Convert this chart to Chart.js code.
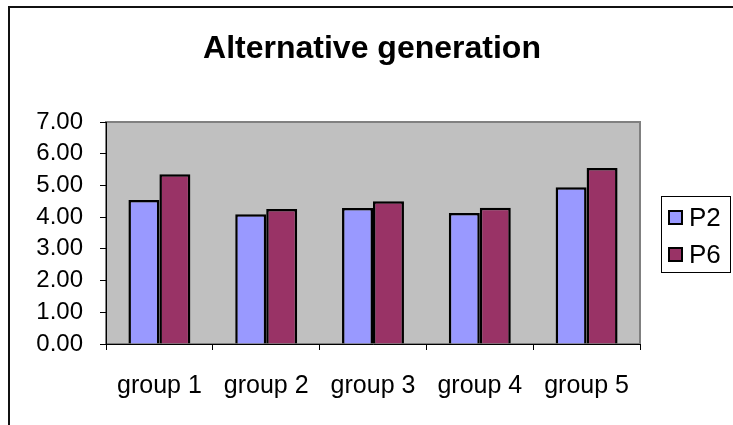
<!DOCTYPE html>
<html>
<head>
<meta charset="utf-8">
<script src="https://cdn.jsdelivr.net/npm/chart.js@4.4.0/dist/chart.umd.min.js"></script>
<style>
html,body{margin:0;padding:0;background:#fff;overflow:hidden;}
#wrap{width:733px;height:425px;}
</style>
</head>
<body>
<div id="wrap"><canvas id="c" width="733" height="425"></canvas></div>
<script>
const chartTitle = "Alternative generation";
const categories = ["group 1", "group 2", "group 3", "group 4", "group 5"];
const seriesNames = ["P2", "P6"];
const p2Values = [4.54, 4.09, 4.29, 4.13, 4.94];
const p6Values = [5.35, 4.26, 4.50, 4.30, 5.55];
const yTicks = [0, 1, 2, 3, 4, 5, 6, 7];

const FONT = "'Liberation Sans', Arial, sans-serif";
Chart.defaults.font.family = FONT;
Chart.defaults.color = "#000";

const decor = {
  id: "decor",
  beforeDraw(chart) {
    const ctx = chart.ctx, a = chart.chartArea;
    ctx.save();
    ctx.fillStyle = "#fff";
    ctx.fillRect(0, 0, chart.width, chart.height);
    // outer frame (top and left edges visible)
    ctx.strokeStyle = "#111";
    ctx.lineWidth = 2;
    ctx.beginPath();
    ctx.moveTo(9, chart.height + 5);
    ctx.lineTo(9, 7);
    ctx.lineTo(chart.width + 5, 7);
    ctx.stroke();
    // plot area
    ctx.fillStyle = "#C0C0C0";
    ctx.fillRect(a.left, a.top, a.right - a.left, a.bottom - a.top);
    ctx.strokeStyle = "#808080";
    ctx.lineWidth = 2;
    ctx.strokeRect(a.left, a.top, a.right - a.left, a.bottom - a.top);
    ctx.restore();
  },
  afterDraw(chart) {
    const ctx = chart.ctx;
    ctx.save();
    // title
    ctx.fillStyle = "#000";
    ctx.font = "bold 32px " + FONT;
    ctx.textAlign = "center";
    ctx.textBaseline = "alphabetic";
    ctx.fillText(chartTitle, 372, 58);
    // legend
    ctx.strokeStyle = "#000";
    ctx.lineWidth = 1;
    ctx.strokeRect(661.5, 196.5, 69, 76);
    ctx.font = "26px " + FONT;
    ctx.textAlign = "left";
    chart.data.datasets.forEach((ds, i) => {
      const y = 211 + i * 37;
      ctx.fillStyle = ds.backgroundColor;
      ctx.fillRect(669, y, 13, 13);
      ctx.lineWidth = 2;
      ctx.strokeStyle = "#000";
      ctx.strokeRect(669, y, 13, 13);
      ctx.fillStyle = "#000";
      ctx.fillText(ds.label, 689, y + 15);
    });
    ctx.restore();
  }
};

new Chart(document.getElementById("c"), {
  type: "bar",
  data: {
    labels: categories,
    datasets: [
      { label: seriesNames[0], data: p2Values, backgroundColor: "#9999FF", borderColor: "#000", borderWidth: 2.5 },
      { label: seriesNames[1], data: p6Values, backgroundColor: "#993366", borderColor: "#000", borderWidth: 2.5 }
    ]
  },
  options: {
    responsive: false,
    animation: false,
    devicePixelRatio: 1,
    layout: { padding: { top: 122, right: 93, bottom: 0, left: 0 } },
    plugins: { legend: { display: false }, title: { display: false }, tooltip: { enabled: false } },
    datasets: { bar: { categoryPercentage: 0.58, barPercentage: 1.0 } },
    scales: {
      x: {
        afterFit(s) { s.height = 81; },
        grid: { offset: true, drawOnChartArea: false, drawTicks: true, tickLength: 6, color: "#000" },
        border: { display: true, color: "#000", width: 1 },
        ticks: { font: { size: 25 }, padding: 21, color: "#000", maxRotation: 0, autoSkip: false }
      },
      y: {
        min: 0, max: 7,
        afterFit(s) { s.width = 106; },
        afterBuildTicks(s) { s.ticks = yTicks.map(v => ({ value: v })); },
        grid: { drawOnChartArea: false, drawTicks: true, tickLength: 6, color: "#000" },
        border: { display: true, color: "#000", width: 1 },
        ticks: { font: { size: 24 }, padding: 17, color: "#000", autoSkip: false, callback: v => Number(v).toFixed(2) }
      }
    }
  },
  plugins: [decor]
});
</script>
</body>
</html>
